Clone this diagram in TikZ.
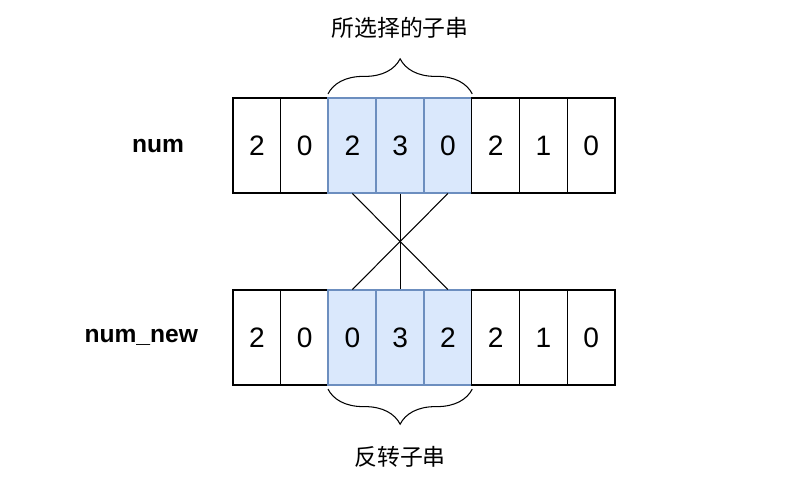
\documentclass[tikz,border=0pt]{standalone}
\usepackage{fontspec}
\setmainfont{Liberation Sans}
\newfontfamily\cjk{Noto Sans CJK SC}
\usetikzlibrary{positioning}
\usetikzlibrary{decorations.pathreplacing}
\definecolor{selfill}{HTML}{DAE8FC}
\definecolor{seldraw}{HTML}{6C8EBF}
\tikzset{
  cell/.style={rectangle, draw, minimum width=47.75*0.02cm, minimum height=95*0.02cm, inner sep=0pt, font=\fontsize{16}{18}\selectfont},
  selcell/.style={cell, fill=selfill, draw=seldraw},
  rowlabel/.style={font=\fontsize{14}{17}\selectfont\bfseries},
  bracelabel/.style={font=\cjk\fontsize{13}{15}\selectfont}
}
\begin{document}
\begin{tikzpicture}[x=0.02cm, y=-0.02cm, line width=0.6pt]
    \useasboundingbox (0,0) rectangle (790,490);

    % Rows
    \foreach \v [count=\i] in {2,0,2,3,0,2,1,0} {
      \ifnum\i>2 \ifnum\i<6 \def\st{selcell}\else\def\st{cell}\fi \else\def\st{cell}\fi
      \node[\st] (t\i) at ({233+47.75*(\i-0.5)},145.5) {\v};
    }
    \foreach \v [count=\i] in {2,0,0,3,2,2,1,0} {
      \ifnum\i>2 \ifnum\i<6 \def\st{selcell}\else\def\st{cell}\fi \else\def\st{cell}\fi
      \node[\st] (b\i) at ({233+47.75*(\i-0.5)},337.5) {\v};
    }
    \foreach \i in {3,4,5} {
      \draw[seldraw] (t\i.south west) -- (t\i.north west);
      \draw[seldraw] (b\i.south west) -- (b\i.north west);
    }

    % Labels
    \node[rowlabel, left=24pt of t1] (numlbl) {num};
    \node[rowlabel, left=16pt of b1] (newlbl) {num\_new};

    % Crossing
    \draw (t3.south) -- (b5.north);
    \draw (t5.south) -- (b3.north);
    \draw (t4.south) -- (b4.north);

    % Braces
    \draw[decorate, decoration={brace, amplitude=20pt}] ([yshift=2pt]t3.north west) -- ([yshift=2pt]t5.north east)
      node[midway, above=28pt, bracelabel] (toptxt) {所选择的子串};
    \draw[decorate, decoration={brace, amplitude=20pt, mirror}] ([yshift=-2pt]b3.south west) -- ([yshift=-2pt]b5.south east)
      node[midway, below=29pt, bracelabel] (bottxt) {反转子串};
\end{tikzpicture}
\end{document}
